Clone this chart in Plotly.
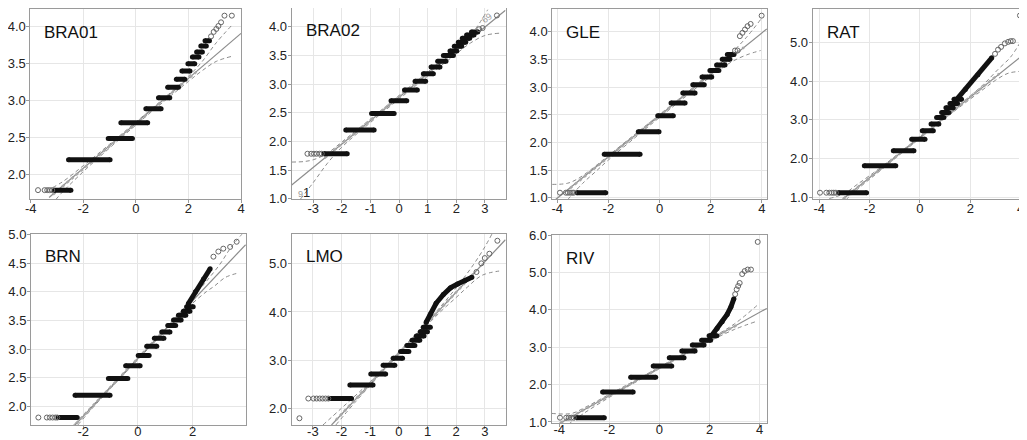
"""Normal QQ plots of log counts for seven sites."""
import plotly.graph_objects as go

W, H = 1027, 440
OFF = 8                      # the page body adds an 8px margin round the figure
FW, FH = W - OFF, H - OFF

# ---- BRA01 ----
BRA01_LVL = [1.79, 2.20, 2.49, 2.70, 2.89, 3.04, 3.18, 3.29, 3.40, 3.50, 3.59, 3.66, 3.74, 3.81]
BRA01_X0 = [-3.10, -2.56, -1.05, -0.57, 0.38, 0.86, 1.21, 1.54, 1.75, 1.98, 2.15, 2.31, 2.47, 2.63]
BRA01_X1 = [-2.47, -0.98, -0.13, 0.45, 0.96, 1.29, 1.62, 1.86, 2.06, 2.24, 2.40, 2.53, 2.68, 2.80]
BRA01_BX, BRA01_BY = [], []
BRA01_TX = [-3.72, -3.47, -3.37, -3.28, -3.18, 2.86, 2.96, 3.06, 3.14, 3.24, 3.37, 3.65]
BRA01_TY = [1.79, 1.79, 1.79, 1.79, 1.79, 3.87, 3.93, 3.97, 4.01, 4.06, 4.15, 4.15]
BRA01_REF_X, BRA01_REF_Y = [-3.3, 4.0], [1.69, 3.91]
BRA01_CH_X, BRA01_CH_Y = [-3.15, 2.3], [1.73, 3.39]
BRA01_UP_X = [-3.4, -2.8, -2.0, -1.0, 0.0, 1.0, 2.0, 2.5, 3.05, 3.65]
BRA01_UP_Y = [1.78, 1.90, 2.12, 2.41, 2.71, 3.01, 3.33, 3.52, 3.78, 4.02]
BRA01_LO_X = [-3.05, -2.8, -2.0, -1.0, 0.0, 1.0, 2.0, 2.5, 3.05, 3.65]
BRA01_LO_Y = [1.66, 1.76, 2.04, 2.36, 2.67, 2.97, 3.26, 3.40, 3.53, 3.60]

# ---- BRA02 ----
BRA02_LVL = [1.785, 2.20, 2.49, 2.71, 2.90, 3.05, 3.18, 3.30, 3.40, 3.50, 3.58, 3.66, 3.73, 3.80, 3.86, 3.91]
BRA02_X0 = [-2.62, -1.86, -0.96, -0.28, 0.19, 0.56, 0.85, 1.12, 1.35, 1.55, 1.78, 1.93, 2.07, 2.21, 2.36, 2.53]
BRA02_X1 = [-1.81, -0.87, -0.17, 0.27, 0.64, 0.93, 1.20, 1.43, 1.64, 1.90, 2.02, 2.19, 2.33, 2.47, 2.62, 2.75]
BRA02_BX, BRA02_BY = [], []
BRA02_TX = [-3.20, -3.07, -2.97, -2.88, -2.78, -2.70, 2.80, 2.92, 3.42]
BRA02_TY = [1.785, 1.785, 1.785, 1.785, 1.785, 1.785, 3.96, 3.98, 4.20]
BRA02_REF_X, BRA02_REF_Y = [-3.75, 3.72], [1.24, 4.29]
BRA02_CH_X, BRA02_CH_Y = [-2.6, 2.9], [1.71, 3.98]
BRA02_UP_X = [-3.75, -3.3, -3.0, -2.7, -2.4, -2.0, -1.0, 0.0, 1.0, 2.0, 2.6, 3.1]
BRA02_UP_Y = [1.64, 1.65, 1.68, 1.74, 1.83, 1.99, 2.39, 2.80, 3.21, 3.63, 3.92, 4.30]
BRA02_LO_X = [-3.45, -3.0, -2.5, -2.0, -1.0, 0.0, 1.0, 2.0, 2.5, 3.0, 3.5]
BRA02_LO_Y = [0.99, 1.28, 1.62, 1.90, 2.33, 2.74, 3.14, 3.53, 3.72, 3.85, 3.89]
BRA02_ID_X = [-3.46, -3.25, 3.08]
BRA02_ID_Y = [1.09, 1.11, 4.15]
BRA02_ID_TXT = ["9", "1", "69"]

# ---- GLE ----
GLE_LVL = [1.09, 1.785, 2.19, 2.48, 2.71, 2.89, 3.04, 3.18, 3.30, 3.40, 3.50, 3.59]
GLE_X0 = [-3.23, -2.16, -0.83, -0.07, 0.45, 0.91, 1.30, 1.66, 1.97, 2.23, 2.45, 2.65]
GLE_X1 = [-2.10, -0.76, -0.02, 0.54, 1.00, 1.39, 1.75, 2.04, 2.32, 2.56, 2.75, 2.91]
GLE_BX, GLE_BY = [], []
GLE_TX = [-3.89, -3.66, -3.58, -3.50, -3.42, -3.35, 2.95, 3.05, 3.14, 3.24, 3.34, 3.44, 3.56, 3.99]
GLE_TY = [1.09, 1.09, 1.09, 1.09, 1.09, 1.09, 3.66, 3.66, 3.92, 3.98, 4.04, 4.10, 4.14, 4.29]
GLE_REF_X, GLE_REF_Y = [-4.05, 4.19], [0.97, 4.05]
GLE_CH_X, GLE_CH_Y = [-3.5, 3.3], [1.17, 3.72]
GLE_UP_X = [-4.2, -3.6, -3.2, -2.7, -2.0, -1.0, 0.0, 1.0, 2.0, 2.8, 3.4, 3.95]
GLE_UP_Y = [1.24, 1.26, 1.34, 1.50, 1.76, 2.13, 2.50, 2.87, 3.27, 3.61, 3.90, 4.22]
GLE_LO_X = [-3.6, -3.0, -2.5, -2.0, -1.0, 0.0, 1.0, 2.0, 2.8, 3.4, 3.95]
GLE_LO_Y = [0.96, 1.26, 1.47, 1.68, 2.07, 2.45, 2.82, 3.19, 3.45, 3.58, 3.66]

# ---- RAT ----
RAT_LVL = [1.12, 1.815, 2.20, 2.50, 2.72, 2.89, 3.06, 3.19, 3.31, 3.42, 3.53]
RAT_X0 = [-3.24, -2.21, -1.06, -0.33, 0.09, 0.44, 0.66, 0.86, 1.03, 1.19, 1.35]
RAT_X1 = [-2.12, -0.96, -0.24, 0.20, 0.53, 0.75, 0.95, 1.15, 1.32, 1.49, 1.65]
RAT_BX = [1.45, 1.80, 2.30, 2.85]
RAT_BY = [3.52, 3.78, 4.16, 4.60]
RAT_TX = [-3.97, -3.72, -3.60, -3.50, -3.42, -3.34, 2.98, 3.10, 3.22, 3.37, 3.50, 3.60, 3.69, 3.97]
RAT_TY = [1.12, 1.12, 1.12, 1.12, 1.12, 1.12, 4.70, 4.81, 4.88, 4.97, 5.01, 5.03, 5.03, 5.69]
RAT_REF_X, RAT_REF_Y = [-3.11, 4.26], [0.93, 4.76]
RAT_CH_X, RAT_CH_Y = [-3.05, 3.15], [0.96, 4.19]
RAT_UP_X = [-3.6, -3.0, -2.5, -1.5, 0.0, 1.5, 2.5, 3.1, 3.6, 4.0]
RAT_UP_Y = [0.97, 1.10, 1.33, 1.80, 2.57, 3.35, 3.90, 4.30, 4.62, 5.02]
RAT_LO_X = [-2.95, -2.5, -1.5, 0.0, 1.5, 2.5, 3.0, 3.5, 4.0]
RAT_LO_Y = [0.93, 1.20, 1.73, 2.53, 3.29, 3.78, 4.02, 4.20, 4.25]

# ---- BRN ----
BRN_LVL = [1.81, 2.20, 2.49, 2.71, 2.89, 3.05, 3.19, 3.30, 3.41, 3.51, 3.59, 3.66, 3.74]
BRN_X0 = [-2.91, -2.30, -1.08, -0.45, 0.01, 0.32, 0.60, 0.87, 1.09, 1.30, 1.48, 1.66, 1.78]
BRN_X1 = [-2.22, -1.02, -0.37, 0.08, 0.41, 0.69, 0.95, 1.17, 1.38, 1.58, 1.75, 1.90, 2.02]
BRN_BX = [1.84, 2.10, 2.40, 2.64]
BRN_BY = [3.79, 4.00, 4.22, 4.40]
BRN_TX = [-3.64, -3.33, -3.22, -3.12, -3.02, -2.95, 2.76, 2.94, 3.12, 3.37, 3.61]
BRN_TY = [1.81, 1.81, 1.81, 1.81, 1.81, 1.81, 4.61, 4.70, 4.75, 4.78, 4.87]
BRN_REF_X, BRN_REF_Y = [-2.30, 3.94], [1.68, 4.82]
BRN_CH_X, BRN_CH_Y = [-2.25, 2.0], [1.71, 3.85]
BRN_UP_X = [-2.35, -1.5, -0.5, 0.5, 1.5, 2.0, 2.5, 3.0, 3.4, 3.8]
BRN_UP_Y = [1.68, 2.10, 2.60, 3.10, 3.61, 3.90, 4.18, 4.48, 4.77, 5.00]
BRN_LO_X = [-2.2, -1.5, -0.5, 0.5, 1.5, 2.0, 2.5, 2.8, 3.2, 3.7]
BRN_LO_Y = [1.68, 2.06, 2.57, 3.07, 3.56, 3.80, 4.00, 4.10, 4.25, 4.33]

# ---- LMO ----
LMO_LVL = [2.20, 2.48, 2.71, 2.89, 3.04, 3.18, 3.30, 3.41, 3.50, 3.59, 3.68]
LMO_X0 = [-2.40, -1.71, -0.98, -0.55, -0.20, 0.06, 0.28, 0.46, 0.61, 0.75, 0.85]
LMO_X1 = [-1.65, -0.90, -0.46, -0.14, 0.13, 0.35, 0.56, 0.73, 0.88, 1.00, 1.10]
LMO_BX = [0.95, 1.10, 1.30, 1.55, 1.80, 2.05, 2.30, 2.55]
LMO_BY = [3.78, 3.95, 4.18, 4.36, 4.50, 4.58, 4.65, 4.72]
LMO_TX = [-3.47, -3.16, -2.98, -2.87, -2.76, -2.66, -2.56, -2.46, 2.71, 2.88, 3.00, 3.16, 3.44]
LMO_TY = [1.79, 2.20, 2.20, 2.20, 2.20, 2.20, 2.20, 2.20, 4.83, 5.01, 5.12, 5.21, 5.48]
LMO_REF_X, LMO_REF_Y = [-2.35, 3.72], [1.65, 5.50]
LMO_CH_X, LMO_CH_Y = [-2.2, 2.6], [1.75, 4.79]
LMO_UP_X = [-2.65, -2.0, -1.0, 0.0, 1.0, 2.0, 2.6, 3.0, 3.25]
LMO_UP_Y = [1.65, 2.00, 2.55, 3.17, 3.80, 4.50, 4.98, 5.35, 5.62]
LMO_LO_X = [-2.2, -1.5, -0.5, 0.5, 1.5, 2.0, 2.4, 2.9, 3.5]
LMO_LO_Y = [1.65, 2.14, 2.80, 3.43, 4.03, 4.30, 4.52, 4.76, 4.85]

# ---- RIV ----
RIV_LVL = [1.115, 1.80, 2.20, 2.50, 2.72, 2.90, 3.06, 3.19, 3.31]
RIV_X0 = [-3.31, -2.27, -1.15, -0.25, 0.39, 0.89, 1.31, 1.68, 1.98]
RIV_X1 = [-2.20, -1.05, -0.15, 0.49, 0.98, 1.42, 1.78, 2.04, 2.29]
RIV_BX = [2.10, 2.30, 2.50, 2.70, 2.85, 2.97]
RIV_BY = [3.33, 3.50, 3.68, 3.88, 4.08, 4.30]
RIV_TX = [-3.97, -3.72, -3.62, -3.52, -3.42, 3.02, 3.08, 3.14, 3.20, 3.30, 3.40, 3.52, 3.65, 3.92]
RIV_TY = [1.115, 1.115, 1.115, 1.115, 1.115, 4.42, 4.55, 4.64, 4.72, 4.96, 5.04, 5.08, 5.08, 5.82]
RIV_REF_X, RIV_REF_Y = [-4.10, 4.28], [0.92, 4.04]
RIV_CH_X, RIV_CH_Y = [-3.95, 3.1], [0.98, 3.60]
RIV_UP_X = [-4.3, -3.5, -3.0, -2.0, -1.0, 0.0, 1.0, 2.0, 3.0, 3.98]
RIV_UP_Y = [1.23, 1.23, 1.38, 1.74, 2.10, 2.47, 2.84, 3.22, 3.63, 4.17]
RIV_LO_X = [-3.65, -3.0, -2.0, -1.0, 0.0, 1.0, 2.0, 3.0, 3.9]
RIV_LO_Y = [0.93, 1.24, 1.66, 2.05, 2.43, 2.80, 3.16, 3.48, 3.70]

# tick values / labels
XT_EVEN = [-4, -2, 0, 2, 4]
XT_EVEN_TXT = ["-4", "-2", "0", "2", "4"]
XT_ONE = [-3, -2, -1, 0, 1, 2, 3]
XT_ONE_TXT = ["-3", "-2", "-1", "0", "1", "2", "3"]

# name, pixel box on the page (l, r, t, b), x range, y range, x ticks, y dtick, data
PANELS = [
    ("BRA01", (30.4, 241.3, 9, 199), [-4.01, 4.01], [1.67, 4.24], (XT_EVEN, XT_EVEN_TXT), 0.5,
     (BRA01_LVL, BRA01_X0, BRA01_X1, BRA01_BX, BRA01_BY, BRA01_TX, BRA01_TY, BRA01_REF_X, BRA01_REF_Y,
      BRA01_CH_X, BRA01_CH_Y, BRA01_UP_X, BRA01_UP_Y, BRA01_LO_X, BRA01_LO_Y)),
    ("BRA02", (291.7, 505.5, 8, 199), [-3.75, 3.72], [0.995, 4.33], (XT_ONE, XT_ONE_TXT), 0.5,
     (BRA02_LVL, BRA02_X0, BRA02_X1, BRA02_BX, BRA02_BY, BRA02_TX, BRA02_TY, BRA02_REF_X, BRA02_REF_Y,
      BRA02_CH_X, BRA02_CH_Y, BRA02_UP_X, BRA02_UP_Y, BRA02_LO_X, BRA02_LO_Y)),
    ("GLE", (552.3, 767, 9.3, 199), [-4.19, 4.2], [0.976, 4.405], (XT_EVEN, XT_EVEN_TXT), 0.5,
     (GLE_LVL, GLE_X0, GLE_X1, GLE_BX, GLE_BY, GLE_TX, GLE_TY, GLE_REF_X, GLE_REF_Y,
      GLE_CH_X, GLE_CH_Y, GLE_UP_X, GLE_UP_Y, GLE_LO_X, GLE_LO_Y)),
    ("RAT", (812.7, 1026, 9.3, 199.3), [-4.26, 4.21], [0.95, 5.85], (XT_EVEN, XT_EVEN_TXT), 1.0,
     (RAT_LVL, RAT_X0, RAT_X1, RAT_BX, RAT_BY, RAT_TX, RAT_TY, RAT_REF_X, RAT_REF_Y,
      RAT_CH_X, RAT_CH_Y, RAT_UP_X, RAT_UP_Y, RAT_LO_X, RAT_LO_Y)),
    ("BRN", (31, 245.7, 234, 425), [-3.91, 3.94], [1.68, 5.005], (XT_EVEN, XT_EVEN_TXT), 0.5,
     (BRN_LVL, BRN_X0, BRN_X1, BRN_BX, BRN_BY, BRN_TX, BRN_TY, BRN_REF_X, BRN_REF_Y,
      BRN_CH_X, BRN_CH_Y, BRN_UP_X, BRN_UP_Y, BRN_LO_X, BRN_LO_Y)),
    ("LMO", (291.7, 505.7, 234, 425), [-3.74, 3.73], [1.65, 5.62], (XT_ONE, XT_ONE_TXT), 1.0,
     (LMO_LVL, LMO_X0, LMO_X1, LMO_BX, LMO_BY, LMO_TX, LMO_TY, LMO_REF_X, LMO_REF_Y,
      LMO_CH_X, LMO_CH_Y, LMO_UP_X, LMO_UP_Y, LMO_LO_X, LMO_LO_Y)),
    ("RIV", (551.7, 767, 235, 423.3), [-4.30, 4.29], [0.965, 6.005], (XT_EVEN, XT_EVEN_TXT), 1.0,
     (RIV_LVL, RIV_X0, RIV_X1, RIV_BX, RIV_BY, RIV_TX, RIV_TY, RIV_REF_X, RIV_REF_Y,
      RIV_CH_X, RIV_CH_Y, RIV_UP_X, RIV_UP_Y, RIV_LO_X, RIV_LO_Y)),
]

FONT = "Liberation Sans, Arial, sans-serif"
GRID = "#e6e6e6"
FRAME = "#9a9a9a"
LINE = "#8c8c8c"


def px_x(p):
    return min(max((p - OFF) / FW, 0.0), 1.0)


def px_y(p):
    return min(max(1 - (p - OFF) / FH, 0.0), 1.0)


fig = go.Figure()
annotations = []

for i, (name, box, xr, yr, xt, ydt, data) in enumerate(PANELS, start=1):
    lvl, x0, x1, bx, by, tx, ty, rx, ry, cx, cy, ux, uy, lx, ly = data
    sfx = "" if i == 1 else str(i)
    xa, ya = "x" + sfx, "y" + sfx
    l, r, t, b = box
    bottom_row = t > 200

    fig.layout["xaxis" + sfx] = dict(
        domain=[px_x(l), px_x(r)], range=xr, anchor=ya, automargin=False,
        tickvals=xt[0], ticktext=xt[1], ticklabelstandoff=-9 if bottom_row else -6,
        showgrid=True, gridcolor=GRID, gridwidth=1, zeroline=False,
        showline=True, mirror=True, linecolor=FRAME, linewidth=1,
        ticks="outside", ticklen=3, tickcolor=FRAME,
        tickfont=dict(family=FONT, size=13, color="#222"),
    )
    fig.layout["yaxis" + sfx] = dict(
        domain=[px_y(b), px_y(t)], range=yr, anchor=xa, automargin=False,
        dtick=ydt, tick0=0, tickformat=".1f", ticklabelstandoff=-2,
        showgrid=True, gridcolor=GRID, gridwidth=1, zeroline=False,
        showline=True, mirror=True, linecolor=FRAME, linewidth=1,
        ticks="outside", ticklen=3, tickcolor=FRAME,
        tickfont=dict(family=FONT, size=13, color="#222"),
    )

    # confidence envelope
    for ex, ey in ((ux, uy), (lx, ly)):
        fig.add_trace(go.Scatter(x=ex, y=ey, mode="lines", xaxis=xa, yaxis=ya,
                                 line=dict(color=LINE, width=1, dash="4px,3px", shape="spline"),
                                 hoverinfo="skip"))
    # reference line
    fig.add_trace(go.Scatter(x=rx, y=ry, mode="lines", xaxis=xa, yaxis=ya,
                             line=dict(color=LINE, width=1.2), hoverinfo="skip"))
    # grey points lying along the line
    fig.add_trace(go.Scatter(x=cx, y=cy, mode="lines", xaxis=xa, yaxis=ya,
                             line=dict(color="#a8a8a8", width=2.5, dash="dot"), hoverinfo="skip"))

    # tied observations drawn as thick runs
    sx, sy = [], []
    for y0, a, c in zip(lvl, x0, x1):
        sx += [a, c, None]
        sy += [y0, y0, None]
    fig.add_trace(go.Scatter(x=sx, y=sy, mode="lines+markers", xaxis=xa, yaxis=ya,
                             line=dict(color="#111", width=5),
                             marker=dict(color="#111", size=5), hoverinfo="skip"))
    if bx:
        fig.add_trace(go.Scatter(x=bx, y=by, mode="lines+markers", xaxis=xa, yaxis=ya,
                                 line=dict(color="#111", width=5),
                                 marker=dict(color="#111", size=5), hoverinfo="skip"))
    # sparse tails
    fig.add_trace(go.Scatter(x=tx, y=ty, mode="markers", xaxis=xa, yaxis=ya,
                             marker=dict(symbol="circle-open", size=5, color="#666",
                                         line=dict(width=1)),
                             hoverinfo="skip"))

    annotations.append(dict(text=name, xref="paper", yref="paper",
                            x=px_x(l + 12), y=px_y(t + 23),
                            xanchor="left", yanchor="middle", showarrow=False,
                            font=dict(family=FONT, size=17, color="#111")))

# point id labels in BRA02
for px, py, s in zip(BRA02_ID_X, BRA02_ID_Y, BRA02_ID_TXT):
    big = s == "1"
    annotations.append(dict(text=s, xref="x2", yref="y2", x=px, y=py, showarrow=False,
                            textangle=0 if len(s) == 1 else -38,
                            font=dict(family=FONT, size=13 if big else 9,
                                      color="#222" if big else "#999")))

fig.update_layout(
    template="none",
    width=FW, height=FH, autosize=False,
    margin=dict(l=0, r=0, t=0, b=0, pad=0, autoexpand=False),
    paper_bgcolor="white", plot_bgcolor="white",
    showlegend=False, annotations=annotations,
)

fig.write_html("out.html")
